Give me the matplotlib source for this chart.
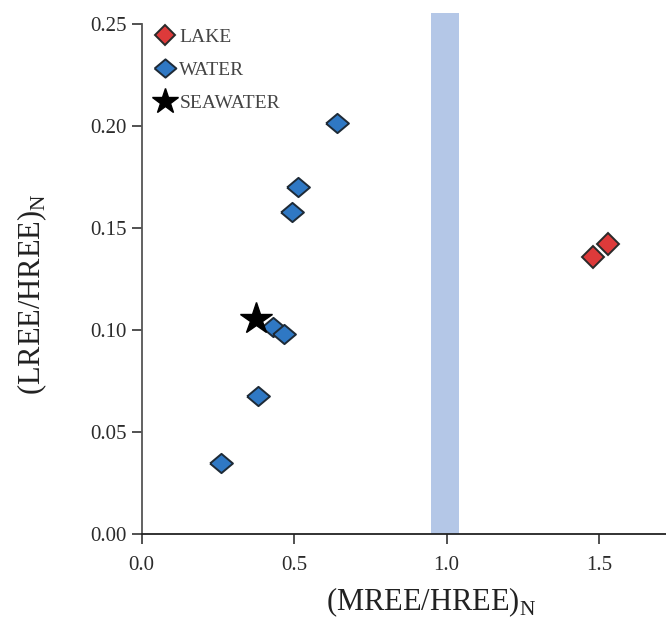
import matplotlib
matplotlib.use("Agg")
from matplotlib import pyplot as plt

# data
water_x = [0.260, 0.380, 0.430, 0.468, 0.492, 0.514, 0.640]
water_y = [0.0347, 0.0676, 0.1016, 0.0980, 0.1577, 0.1700, 0.2013]
lake_x = [1.481, 1.530]
lake_y = [0.1360, 0.1420]
sea_x = [0.375]
sea_y = [0.1052]
band = (0.95, 1.04)
xticks = [0.0, 0.5, 1.0, 1.5]
yticks = [0.00, 0.05, 0.10, 0.15, 0.20, 0.25]

plt.rcParams['font.family'] = ['Liberation Serif', 'DejaVu Serif']
plt.rcParams['mathtext.fontset'] = 'custom'
plt.rcParams['mathtext.rm'] = 'Liberation Serif'

fig = plt.figure(figsize=(6.66, 6.32), dpi=100)
ax = fig.add_axes([0.2128, 0.155, 0.7872, 0.8244])

ax.axvspan(band[0], band[1], color='#b4c7e7', lw=0, zorder=0)

diamond = [(-1, 0), (0, 0.84), (1, 0), (0, -0.84), (-1, 0)]
ax.plot(lake_x, lake_y, ls='none', marker='D', ms=11, mfc='#dd3a3a',
        mec='#2a2a2a', mew=1.4, label='LAKE', zorder=3)
ax.plot(water_x, water_y, ls='none', marker=diamond, ms=16.5, mfc='#2f78c4',
        mec='#1e2a36', mew=1.4, label='WATER', zorder=3)
ax.plot(sea_x, sea_y, ls='none', marker='*', ms=24, mfc='black',
        mec='black', label='SEAWATER', zorder=4)

ax.set_xlim(0, 1.72)
ax.set_ylim(0, 0.2554)
ax.set_xticks(xticks)
ax.set_xticklabels([f"{v:.1f}" for v in xticks])
ax.set_yticks(yticks)
ax.set_yticklabels([f"{v:.2f}" for v in yticks])

for s in ['top', 'right']:
    ax.spines[s].set_visible(False)
ax.spines['left'].set_bounds(0, 0.25)
ax.spines['left'].set_color('#555555')
ax.spines['left'].set_linewidth(1.3)
ax.spines['bottom'].set_color('#222222')
ax.spines['bottom'].set_linewidth(1.3)
ax.tick_params(direction='out', length=7, width=1.2, colors='#333333',
               labelsize=15, labelcolor='#2b2b2b')
ax.tick_params(axis='x', pad=9)
ax.tick_params(axis='y', pad=4)

ax.set_xlabel(r'(MREE/HREE)$_\mathregular{N}$', fontsize=22, color='#222222')
ax.set_ylabel(r'(LREE/HREE)$_\mathregular{N}$', fontsize=22, color='#222222')
ax.xaxis.set_label_coords(0.552, -0.098)
ax.yaxis.set_label_coords(-0.177, 0.46)

leg = ax.legend(loc='upper left', bbox_to_anchor=(-0.01, 1.005), frameon=False,
                fontsize=14, handlelength=1.1, handletextpad=0.2, labelspacing=0.8,
                markerscale=0.95, labelcolor='#444444')
leg.legend_handles[2].set_markersize(19)

fig.savefig('out.png', dpi=100)
